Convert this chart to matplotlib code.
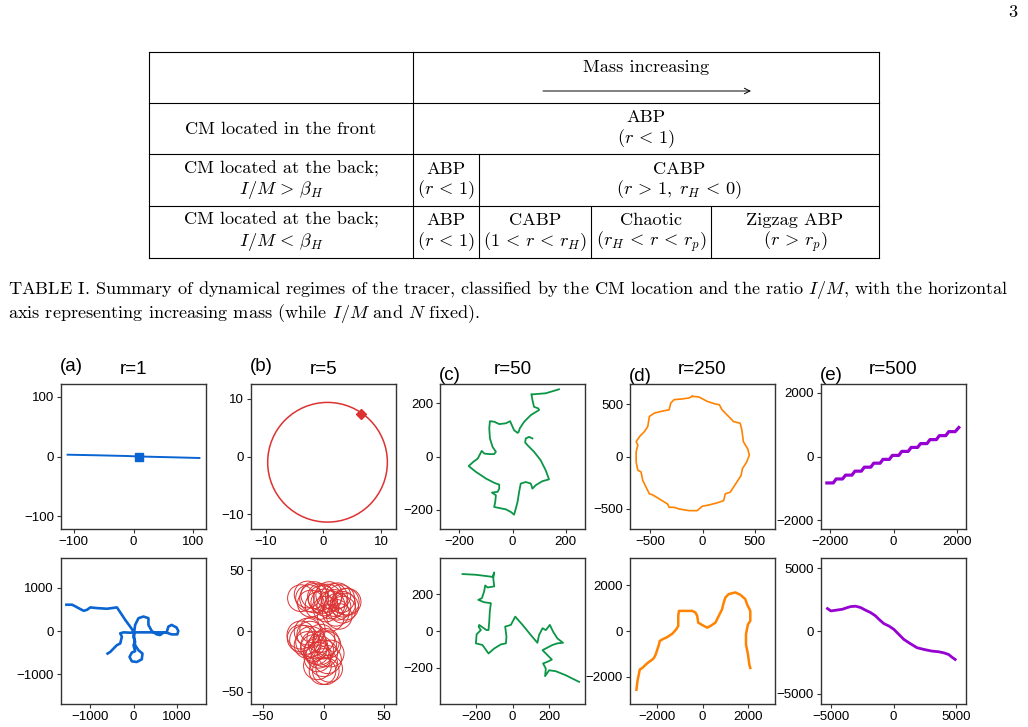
import matplotlib
matplotlib.use("Agg")
import matplotlib.pyplot as plt
from matplotlib.patches import Circle

plt.rcParams["mathtext.fontset"] = "cm"
plt.rcParams["axes.unicode_minus"] = True

# ---------------- table content ----------------
table_header = "Mass increasing"
row_labels = [("CM located in the front", None),
              ("CM located at the back;", r"$I/M\, >\, \beta_H$"),
              ("CM located at the back;", r"$I/M\, <\, \beta_H$")]
row1_cells = [("ABP", r"$(r\, <\, 1)$")]
row2_cells = [("ABP", r"$(r\, <\, 1)$"), ("CABP", r"$(r\, >\, 1,\; r_H\, <\, 0)$")]
row3_cells = [("ABP", r"$(r\, <\, 1)$"), ("CABP", r"$(1\, <\, r\, <\, r_H)$"),
              ("Chaotic", r"$(r_H\, <\, r\, <\, r_p)$"), ("Zigzag ABP", r"$(r\, >\, r_p)$")]
caption_line1 = ("TABLE I. Summary of dynamical regimes of the tracer, classified by the CM "
                 "location and the ratio $I/M$, with the horizontal")
caption_line2 = "axis representing increasing mass (while $I/M$ and $N$ fixed)."
page_number = "3"

# ---------------- panel content ----------------
panel_letters = ["(a)", "(b)", "(c)", "(d)", "(e)"]
panel_titles = ["r=1", "r=5", "r=50", "r=250", "r=500"]
panel_colors = ["#0a64d2", "#dc3232", "#0a9646", "#ff8200", "#9600d2"]

top_limits = [121, 12.6, 273, 695, 2275]
bot_limits = [1680, 60, 396, 3200, 5830]
top_ticks = [[-100, 0, 100], [-10, 0, 10], [-200, 0, 200], [-500, 0, 500], [-2000, 0, 2000]]
bot_ticks = [[-1000, 0, 1000], [-50, 0, 50], [-200, 0, 200], [-2000, 0, 2000], [-5000, 0, 5000]]

# (a) r=1, top
a_top_x = [-110, -60, -10, 10, 60, 110]
a_top_y = [3, 2, 0.8, 0, -1.2, -2.5]
a_top_start = (10, -0.5)
# (b) r=5, top : a circle
b_top_center = (0.7, -1.0)
b_top_radius = 10.4
b_top_start = (6.6, 7.3)
# (c) r=50, top
c_top_x = [175, 125, 75, 71, 75, 81, 97.5, 100, 69, 44, 27.5, 22.5, 19, 6, -2.5, -9, -25, -50, -69, -85,
           -87.5, -85, -75, -62.5, -69, -87.5, -106, -116, -131, -147.5, -165, -137.5, -100, -69, -50,
           -50, -56, -77.5, -62.5, -65, -69, -50, -25, -6, 6, 12.5, 19, 25, 31, 50, 69, 75, 87.5, 112.5,
           137.5, 125, 106, 81, 56, 47.5, 50, 62.5, 75]
c_top_y = [253, 238, 234, 235, 213, 187, 181, 175, 156, 131, 106, 91, 89, 99, 118, 133, 125, 122, 131, 133,
           106, 68, 36, 18, 9, 9, 11, 21, -8, -20, -36, -58, -83, -99, -106,
           -121, -133, -136, -146, -171, -190, -194, -199, -209, -219, -196, -171, -133, -102, -96, -102,
           -121, -108, -93, -86, -52, -14, 18, 43, 53, 68, 74, 68]
# (d) r=250, top
d_top_x = [-98, -35, 44, 123, 161, 187, 250, 297, 361, 377, 392, 434, 449, 424, 383, 370, 329, 266, 218,
           203, 139, 60, -3, -51, -130, -225, -272, -320, -335, -415, -478, -509, -541, -573, -589, -620,
           -636, -636, -620, -636, -604, -557, -525, -509, -462, -399, -320, -304, -272, -193, -130, -98]
d_top_y = [577, 571, 529, 503, 497, 448, 384, 335, 319, 255, 142, 71, 13, -52, -116, -181, -245, -342, -358,
           -423, -445, -465, -477, -519, -519, -503, -487, -487, -455, -406, -368, -358, -294, -229, -148,
           -132, -52, 45, 110, 142, 190, 239, 287, 384, 416, 432, 448, 513, 545, 552, 561, 577]
# (e) r=500, top : zigzag staircase
e_top_x = [-2090, -1890, -1800, -1600, -1505, -1305, -1210, -1010, -915, -715, -620, -420, -330, -130,
           -35, 165, 260, 460, 555, 755, 850, 1050, 1145, 1345, 1440, 1640, 1735, 1935, 2050]
e_top_y = [-830, -830, -705, -705, -585, -585, -460, -460, -335, -335, -210, -210, -90, -90,
           35, 35, 160, 160, 285, 285, 405, 405, 530, 530, 655, 655, 780, 780, 910]

# (a) bottom
a_bot_x = [-600, -538, -462, -385, -308, -269, -308, -231, -77, 15, 38, 115, 231, 346, 346, 423, 538, 615,
           692, 769, 808, 885, 1000, 1038, 1015, 885, 769, 615, 462, 308, 154, 15, 0, 38, 0, 38, -38,
           -92, -38, 77, 192, 208, 115, 38, 15, 15, -77, -192, -269, -346, -385, -615, -846, -1000,
           -1077, -1154, -1231, -1346, -1423, -1554]
a_bot_y = [-519, -481, -403, -326, -287, -132, -54, -31, -39, -31, 140, 295, 333, 295, 140, 0, -78, -93,
           -39, -31, 101, 140, 78, 0, -78, -78, -39, -31, -31, -31, -31, -31, -132, -248, -326, -465, -496,
           -597, -698, -713, -651, -519, -442, -326, -171, -31, 101, 256, 372, 488, 543, 512, 527, 543,
           488, 465, 504, 566, 605, 605]
# (b) bottom : rotating circles (centres and radii)
b_bot_cx = [-18.7, -13.2, -7.7, -2.2, 3.3, 8.8, 14.3, 18.5, 20.0, 11.6, 6.1, 0.6, 13.0, 10.2, -3.6, -10.5,
            -7.7, 4.7, 15.7, 18.0, 2.0, 9.0, -1.0, 12.0, 6.0, -12.0, 16.0,
            -18.7, -13.2, -10.5, -7.7, -3.6, 0.6, 3.3, 4.7, -0.8, -5.0, -13.2, -16.0, -19.0, -9.1, -2.2,
            3.3, 6.0, -0.8, -5.0, 1.9, -8.0, -4.0, -11.0, 0.0, -6.0, 2.0]
b_bot_cy = [27.0, 30.0, 27.0, 28.0, 27.0, 28.0, 26.5, 24.0, 24.0, 20.0, 21.5, 23.5, 12.0, 15.0, 21.0, 22.5,
            29.5, 29.5, 17.5, 20.0, 18.0, 23.0, 26.0, 29.0, 11.0, 27.0, 22.0,
            -3.3, -0.5, -8.8, -11.5, -16.0, -18.5, -23.5, -31.0, -33.0, -28.5, -11.5, -7.4, -6.0, 1.0, -6.0,
            -11.5, -18.5, -11.5, -22.5, -33.0, -14.0, -20.0, -3.0, -26.0, -17.0, -9.0]
b_bot_r = [11.0, 11.0, 12.0, 11.0, 11.5, 11.0, 11.5, 11.0, 11.0, 11.0, 11.5, 11.0, 10.5, 11.0, 11.5, 11.0,
           11.0, 11.0, 11.0, 11.0, 10.5, 11.0, 11.5, 10.5, 11.0, 11.0, 10.5,
           11.5, 11.0, 12.5, 11.0, 12.0, 11.0, 11.5, 11.0, 11.0, 11.5, 11.0, 12.0, 11.0, 10.5, 11.5,
           11.0, 11.0, 11.5, 11.0, 11.0, 11.0, 10.5, 11.0, 11.5, 10.5, 11.0]
# (c) bottom
c_bot_x = [-273, -200, -127, -109, -100, -105, -100, -136, -149, -155, -167, -187, -155, -118, -124, -127,
           -131, -142, -182, -185, -173, -196, -200, -164, -131, -100, -64, -36, -33, -40, -9, 15, 55, 100,
           136, 145, 164, 182, 204, 222, 245, 276, 245, 218, 164, 182, 215, 191, 167, 182, 178, 200, 236,
           291, 327, 364]
c_bot_y = [309, 305, 296, 293, 318, 287, 242, 236, 247, 215, 178, 169, 156, 151, 105, 51,
           5, 5, 33, 24, 5, -18, -67, -76, -122, -95, -73, -67, -31, 24, 33, 78, 33, -22,
           -64, -22, 15, 5, 33, -4, -40, -64, -67, -76, -104, -122, -155, -167, -176, -204, -245, -213, -218,
           -240, -258, -276]
# (d) bottom
d_bot_x = [-2916, -2872, -2828, -2769, -2652, -2505, -2359, -2212, -2139, -2066, -1993, -1919, -1890, -1773,
           -1553, -1333, -1158, -1070, -1070, -1040, -747, -454, -308, -234, -190, -15, 205, 352, 571, 718,
           864, 938, 1011, 1158, 1451, 1670, 1890, 1963, 2110, 2110, 2007, 1919, 1919, 2007, 2066, 2110]
d_bot_y = [-2574, -2206, -1985, -1691, -1618, -1471, -1353, -1250, -1176, -1029, -809, -588, -441, -368,
           -265, -118, 74, 221, 662, 882, 882, 882, 809, 662, 368, 265, 147, 221, 368, 662,
           956, 1250, 1471, 1618, 1691, 1588, 1397, 1176, 882, 441, 294, -147, -588, -1029, -1471, -1618]
# (e) bottom
e_bot_x = [-5307, -5040, -4640, -4107, -3707, -3440, -3040, -2640, -2240, -1840, -1440, -1173, -773, -373,
           27, 427, 827, 1360, 1893, 2560, 3093, 3627, 4027, 4427, 4693, 4960]
e_bot_y = [1791, 1604, 1658, 1738, 1872, 1952, 1979, 1872, 1658, 1471, 1203, 936, 588, 401,
           134, -267, -668, -1016, -1337, -1497, -1604, -1658, -1738, -1872, -2086, -2273]

# ---------------- figure ----------------
W, H = 1028, 727
fig = plt.figure(figsize=(W / 100, H / 100), dpi=100)
bg = fig.add_axes([0, 0, 1, 1])
bg.set_xlim(0, W)
bg.set_ylim(H, 0)
bg.axis("off")

serif = "cmr10"
fs_tab = 13.2
fs_cap = 13.1
lw_tab = 0.8
# table frame
for y in [52, 103, 154, 206, 258]:
    bg.plot([149, 879], [y, y], color="black", lw=lw_tab)
for x in [149, 413, 879]:
    bg.plot([x, x], [52, 258], color="black", lw=lw_tab)
bg.plot([479, 479], [154, 258], color="black", lw=lw_tab)
for x in [591, 711]:
    bg.plot([x, x], [206, 258], color="black", lw=lw_tab)

def ttext(x, y, s):
    bg.text(x, y, s, family=serif, fontsize=fs_tab, ha="center", va="center")

ttext(646, 67, table_header)
bg.annotate("", xy=(751, 91), xytext=(543, 91),
            arrowprops=dict(arrowstyle="->", lw=0.7, color="black", shrinkA=0, shrinkB=0))
# row labels
ttext(281, 129, row_labels[0][0])
ttext(281, 169, row_labels[1][0]); ttext(281, 190, row_labels[1][1])
ttext(281, 220, row_labels[2][0]); ttext(281, 242, row_labels[2][1])
# cells
ttext(646, 117, row1_cells[0][0]); ttext(646, 139, row1_cells[0][1])
for (a, b), xc in zip(row2_cells, [446, 679]):
    ttext(xc, 169, a); ttext(xc, 190, b)
for (a, b), xc in zip(row3_cells, [446, 535, 651, 795]):
    ttext(xc, 220, a); ttext(xc, 242, b)

# caption as one two-line text block
bg.text(8, 279, caption_line1 + "\n" + caption_line2, family=serif, fontsize=fs_cap,
        ha="left", va="top", linespacing=1.05)
bg.text(1017, 12, page_number, family=serif, fontsize=fs_tab, ha="right", va="center")

# ---------------- panels ----------------
lefts = [61, 251, 440, 630, 821]
pw = 145
rows = [(384, 529), (558, 704)]
sans = "Liberation Sans"
letter_base = [371, 371, 380, 381, 380]
title_base = 374

def make_ax(left, top, bottom, lim, ticks):
    ax = fig.add_axes([left / W, 1 - bottom / H, pw / W, (bottom - top) / H])
    ax.set_xlim(-lim, lim)
    ax.set_ylim(-lim, lim)
    ax.set_xticks(ticks)
    ax.set_yticks(ticks)
    ax.tick_params(direction="out", length=3, width=0.8, pad=2, labelsize=9.5, colors="#333333",
                   labelcolor="black")
    for lab in ax.get_xticklabels() + ax.get_yticklabels():
        lab.set_family(sans)
    for sp in ax.spines.values():
        sp.set_color("#333333")
        sp.set_linewidth(1.0)
    return ax

top_axes = [make_ax(lefts[i], rows[0][0], rows[0][1], top_limits[i], top_ticks[i]) for i in range(5)]
bot_axes = [make_ax(lefts[i], rows[1][0], rows[1][1], bot_limits[i], bot_ticks[i]) for i in range(5)]

# top row
ax = top_axes[0]
ax.plot(a_top_x, a_top_y, color=panel_colors[0], lw=1.4)
ax.plot([a_top_start[0]], [a_top_start[1]], marker="s", ms=5.5, color=panel_colors[0])
ax = top_axes[1]
ax.add_patch(Circle(b_top_center, b_top_radius, fill=False, ec=panel_colors[1], lw=1.1))
ax.plot([b_top_start[0]], [b_top_start[1]], marker="D", ms=5, color=panel_colors[1])
top_axes[2].plot(c_top_x, c_top_y, color=panel_colors[2], lw=1.3)
top_axes[3].plot(d_top_x, d_top_y, color=panel_colors[3], lw=1.2)
top_axes[4].plot(e_top_x, e_top_y, color=panel_colors[4], lw=2.3)

# bottom row
bot_axes[0].plot(a_bot_x, a_bot_y, color=panel_colors[0], lw=1.9)
for cx, cy, r in zip(b_bot_cx, b_bot_cy, b_bot_r):
    bot_axes[1].add_patch(Circle((cx, cy), r, fill=False, ec=panel_colors[1], lw=0.7))
bot_axes[2].plot(c_bot_x, c_bot_y, color=panel_colors[2], lw=1.3)
bot_axes[3].plot(d_bot_x, d_bot_y, color=panel_colors[3], lw=1.8)
bot_axes[4].plot(e_bot_x, e_bot_y, color=panel_colors[4], lw=2.0)

# panel letters and titles
for i in range(5):
    bg.text(lefts[i] - 1, letter_base[i], panel_letters[i], family=sans, fontsize=13.5,
            ha="left", va="baseline")
    bg.text(lefts[i] + pw / 2, title_base, panel_titles[i], family=sans, fontsize=13.5,
            ha="center", va="baseline")

fig.savefig("out.png", dpi=100)
